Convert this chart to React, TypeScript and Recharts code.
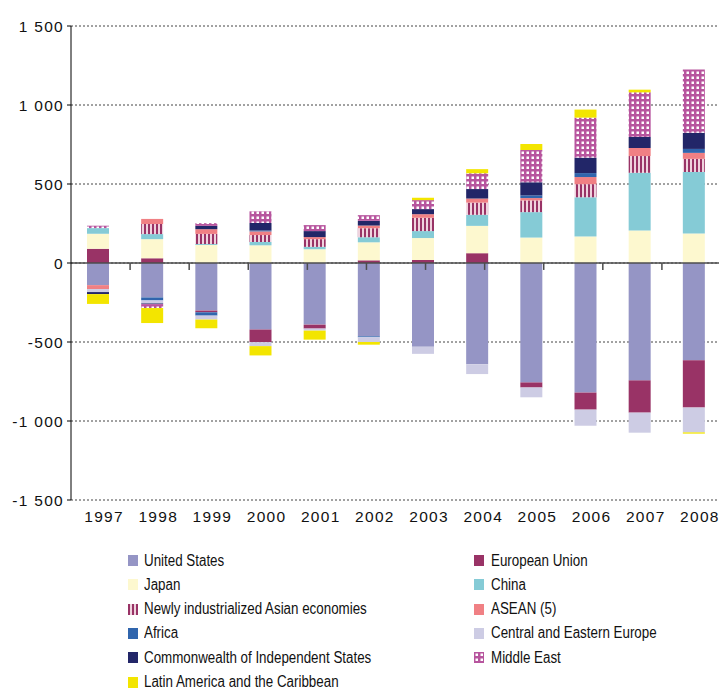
import {
  BarChart,
  Bar,
  XAxis,
  YAxis,
  CartesianGrid,
  ReferenceLine,
} from "recharts";

// values, billions of dollars
const years = ["1997", "1998", "1999", "2000", "2001", "2002", "2003", "2004", "2005", "2006", "2007", "2008"];

const unitedStates = [-140, -218, -301, -421, -390, -464, -530, -641, -756, -820, -743, -616];
const europeanUnion = [90, 30, -11, -80, -25, 17, 19, 62, -32, -108, -204, -299];
const japan = [95, 121, 114, 112, 87, 114, 139, 173, 161, 168, 206, 187];
const china = [36, 32, 6, 21, 15, 32, 44, 70, 161, 248, 365, 389];
const newlyIndustrialized = [0, 64, 64, 44, 49, 57, 84, 77, 74, 83, 106, 83];
const asean = [-25, 32, 30, 23, 13, 17, 23, 26, 15, 45, 51, 38];
const africa = [0, -19, -21, 6, 0, -6, 0, 0, 17, 25, 0, 25];
const centralEastEurope = [-19, -19, -25, -25, -13, -30, -45, -62, -62, -102, -127, -157];
const cis = [-13, -4, 21, 47, 38, 30, 32, 60, 83, 98, 70, 102];
const middleEast = [15, -25, 17, 74, 38, 36, 57, 100, 204, 253, 282, 401];
const latinAmerica = [-62, -95, -55, -59, -57, -17, 15, 26, 38, 51, 17, -8];

const yTicks = [-1500, -1000, -500, 0, 500, 1000, 1500];

const series = [
  { key: "us", name: "United States", values: unitedStates, fill: "#9595c5" },
  { key: "eu", name: "European Union", values: europeanUnion, fill: "#993366" },
  { key: "jp", name: "Japan", values: japan, fill: "#fdf8cf" },
  { key: "cn", name: "China", values: china, fill: "#85cbd6" },
  { key: "nie", name: "Newly industrialized Asian economies", values: newlyIndustrialized, fill: "url(#stripes)" },
  { key: "asean", name: "ASEAN (5)", values: asean, fill: "#f08084" },
  { key: "af", name: "Africa", values: africa, fill: "#3065ad" },
  { key: "cee", name: "Central and Eastern Europe", values: centralEastEurope, fill: "#cdcce4" },
  { key: "cis", name: "Commonwealth of Independent States", values: cis, fill: "#222668" },
  { key: "me", name: "Middle East", values: middleEast, fill: "url(#checks)" },
  { key: "la", name: "Latin America and the Caribbean", values: latinAmerica, fill: "#f3e500" },
];

const chartData = years.map((year, i) => {
  const row: Record<string, string | number> = { year };
  series.forEach((s) => (row[s.key] = s.values[i]));
  return row;
});

// category boundaries for the little ticks hanging off the zero line
const boundaries = years.slice(1).map((_, i) => i + 1);

const fmt = (v: number) => {
  const abs = Math.abs(v);
  const s = abs >= 1000 ? `${Math.floor(abs / 1000)} ${String(abs % 1000).padStart(3, "0")}` : `${abs}`;
  return v < 0 ? `-${s}` : s;
};

const axisFont = { fontSize: 15.5, fill: "#111", fontFamily: "'Liberation Sans', Arial, sans-serif", letterSpacing: 1.3 };

export default function App() {
  return (
    <div style={{ position: "relative", width: 719, height: 690, overflow: "hidden", background: "#fff" }}>
      <style>{`body{margin:0;overflow:hidden}`}</style>
      <svg width={0} height={0} style={{ position: "absolute" }}>
        <defs>
          <pattern id="stripes" width={4} height={4} patternUnits="userSpaceOnUse">
            <rect width={4} height={4} fill="#efd3de" />
            <rect width={2} height={4} fill="#993366" />
          </pattern>
          <pattern id="checks" width={5} height={5} patternUnits="userSpaceOnUse">
            <rect width={5} height={5} fill="#b7559e" />
            <rect x={1.5} y={1.5} width={2.5} height={2.5} fill="#ffffff" />
          </pattern>
        </defs>
      </svg>
      <div style={{ position: "absolute", left: 0, top: 0 }}>
        <BarChart
          width={721}
          height={530}
          data={chartData}
          stackOffset="sign"
          barSize={22}
          margin={{ top: 26, right: 0, bottom: 0, left: 0 }}
        >
          <CartesianGrid vertical={false} strokeDasharray="2 2" stroke="#444" />
          <XAxis
            dataKey="year"
            axisLine={false}
            tickLine={false}
            tickSize={6}
            tickMargin={5}
            tick={{ ...axisFont, dx: 6 }}
            interval={0}
            height={30}
          />
          <XAxis xAxisId="bounds" type="number" domain={[0, years.length]} hide />
          <YAxis
            width={71}
            domain={[-1500, 1500]}
            ticks={yTicks}
            tickFormatter={fmt}
            tickSize={4}
            tickMargin={3}
            tick={axisFont}
            axisLine={{ stroke: "#000" }}
            tickLine={{ stroke: "#000" }}
            interval={0}
          />
          {series.map((s) => (
            <Bar key={s.key} dataKey={s.key} name={s.name} stackId="a" fill={s.fill} isAnimationActive={false} />
          ))}
          <ReferenceLine y={0} stroke="#4d4d4d" strokeWidth={1.5} />
          {boundaries.map((b) => (
            <ReferenceLine
              key={b}
              xAxisId="bounds"
              segment={[{ x: b, y: 0 }, { x: b, y: -44 }]}
              stroke="#4d4d4d"
              strokeWidth={1.5}
            />
          ))}
        </BarChart>
      </div>
      {series.map((s, i) => {
        const col = i % 2;
        const row = Math.floor(i / 2);
        return (
          <div
            key={s.key}
            style={{
              position: "absolute",
              left: col === 0 ? 128 : 474,
              top: 552 + row * 24.3,
              height: 17,
              display: "flex",
              alignItems: "center",
              whiteSpace: "nowrap",
              fontFamily: "'Liberation Sans', Arial, sans-serif",
              fontSize: 16,
              color: "#111",
            }}
          >
            <svg width={10} height={11} style={{ marginRight: col === 0 ? 6 : 7 }}>
              <rect width={10} height={11} fill={s.fill} />
            </svg>
            <span style={{ display: "inline-block", transform: "scaleX(0.835)", transformOrigin: "left center" }}>
              {s.name}
            </span>
          </div>
        );
      })}
    </div>
  );
}
